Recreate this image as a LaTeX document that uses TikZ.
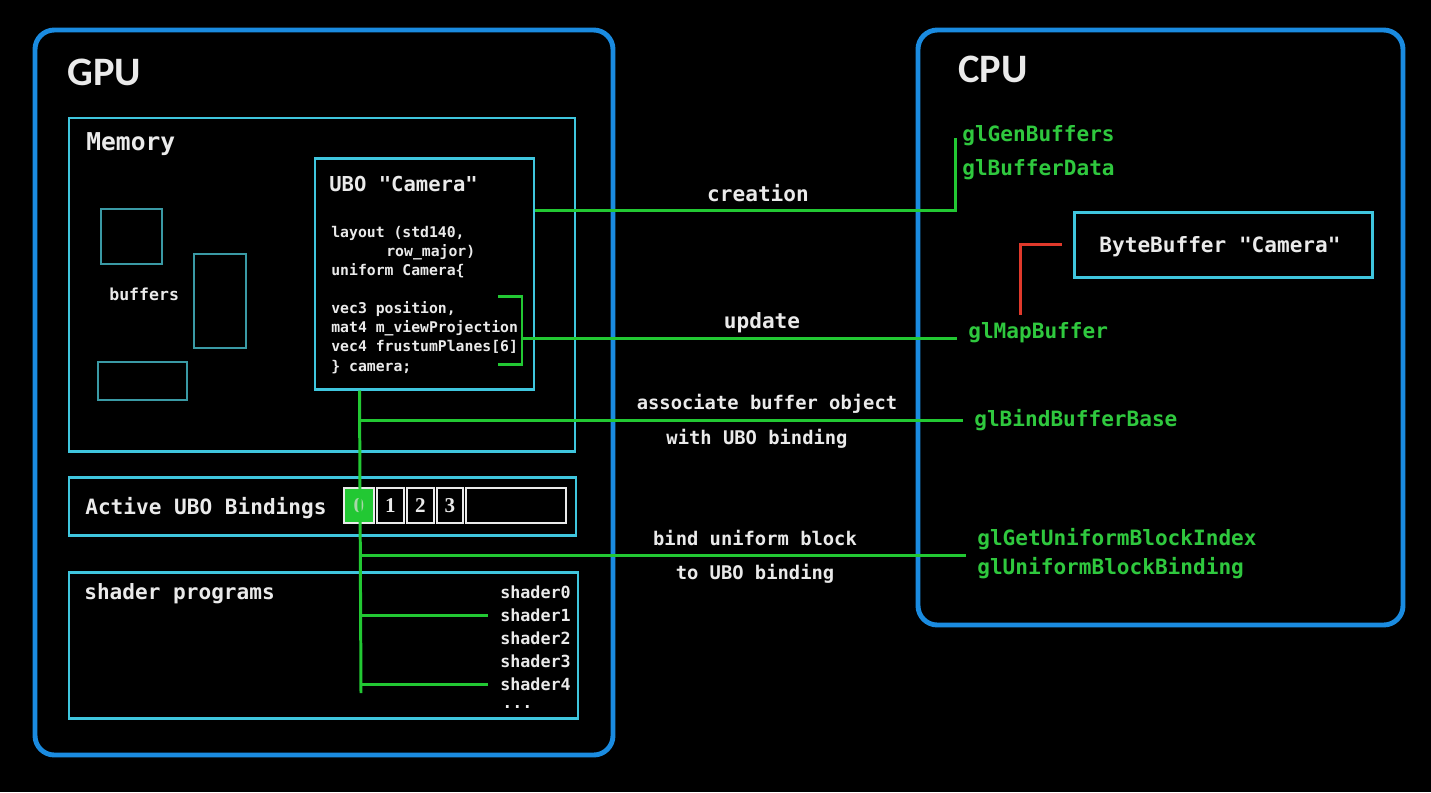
\documentclass[tikz,border=0pt]{standalone}
\usepackage{fontspec}
\setmainfont{Carlito}
\setmonofont{DejaVu Sans Mono}
\newfontfamily\digitfont{Liberation Serif}
\usetikzlibrary{fit,positioning}
\definecolor{gpublue}{HTML}{1A8BE0}
\definecolor{boxcyan}{HTML}{3FC6DE}
\definecolor{bufteal}{HTML}{3A9AA5}
\definecolor{linkgreen}{HTML}{22C833}
\definecolor{callgreen}{HTML}{2FC83E}
\definecolor{mapred}{HTML}{E0392B}
\definecolor{labelgrey}{HTML}{EAEAEA}
\definecolor{zerogrey}{HTML}{A8D8A8}

\tikzset{
  unitbox/.style={draw=gpublue,line width=2.8pt,rounded corners=11pt,inner sep=0pt},
  partbox/.style={draw=boxcyan,line width=1.7pt,inner sep=0pt},
  bufbox/.style={draw=bufteal,line width=1.1pt,inner sep=0pt},
  cellbox/.style={draw=labelgrey,line width=1.1pt,inner sep=0pt},
  unitlabel/.style={text=labelgrey,font=\bfseries\fontsize{23}{23}\selectfont,inner sep=0pt,anchor=west,yshift=-1pt},
  monolabel/.style={text=labelgrey,font=\ttfamily\bfseries\fontsize{#1}{#1}\selectfont,inner sep=0pt,yshift=-1.2pt},
  calllabel/.style={text=callgreen,font=\ttfamily\bfseries\fontsize{12}{12}\selectfont,inner sep=0pt,anchor=west,yshift=-1.2pt},
  digitlabel/.style={text=labelgrey,font=\digitfont\bfseries\fontsize{12}{12}\selectfont,inner sep=0pt},
  link/.style={draw=linkgreen,line width=1.7pt},
  maplink/.style={draw=mapred,line width=1.7pt}
}

\begin{document}
\begin{tikzpicture}[x=0.02cm,y=-0.02cm]
  \fill[black] (0,0) rectangle (1431,792);

  % GPU side
  \node[unitbox,fit={(35,30) (613,755)}] (gpu) {};
  \node[unitlabel] (gpulabel) at (67,71) {GPU};
  \node[partbox,fit={(69,118) (575,451)}] (memory) {};
  \node[monolabel=14,anchor=west] (memlabel) at (86,142) {Memory};
  \node[bufbox,fit={(101,209) (162,264)}] (bufA) {};
  \node[bufbox,fit={(194,254) (246,348)}] (bufB) {};
  \node[bufbox,fit={(98,362) (187,400)}] (bufC) {};
  \node[monolabel=9.4,anchor=west] (buflabel) at (109,292) {buffers};

  \node[partbox,fit={(315,158) (534,389)}] (ubo) {};
  \node[monolabel=11.7,anchor=west] (ubolabel) at (329,182) {UBO "Camera"};
  \foreach \cx/\cy/\ct [count=\i] in {331/231/{layout (std140,},386/250/{row\_major)},331/269/{uniform Camera\{},331/307/{vec3 position,},331/326/{mat4 m\_viewProjection},331/345/{vec4 frustumPlanes[6]},331/365/{\} camera;}}
    \node[monolabel=8.4,anchor=west] (code\i) at (\cx,\cy) {\ct};

  \node[partbox,fit={(69,477) (576,535)}] (bindings) {};
  \node[monolabel=12,anchor=west] (bindlabel) at (85,506) {Active UBO Bindings};
  \node[cellbox,fill=linkgreen,fit={(344,488) (374,523)}] (cell0) {};
  \node[cellbox,fit={(377,488) (404,523)}] (cell1) {};
  \node[cellbox,fit={(407,488) (434,523)}] (cell2) {};
  \node[cellbox,fit={(437,488) (463,523)}] (cell3) {};
  \node[cellbox,fit={(466,488) (566,523)}] (cellrest) {};
  \node[digitlabel,text=zerogrey] (digit0) at (cell0.center) {0};
  \foreach \i in {1,...,3}
    \node[digitlabel] (digit\i) at (cell\i.center) {\i};

  \node[partbox,fit={(69,572) (578,718)}] (shaders) {};
  \node[monolabel=12,anchor=west] (shaderlabel) at (84,592) {shader programs};
  \foreach \i in {0,...,4}
    \node[monolabel=9.5,anchor=east] (shader\i) at (571,590+23*\i) {shader\i};
  \node[monolabel=9.5,anchor=west] (shadermore) at (502,705) {...};

  % CPU side
  \node[unitbox,fit={(918,30) (1403,625)}] (cpu) {};
  \node[unitlabel] (cpulabel) at (958,68) {CPU};
  \node[calllabel] (glgen) at (962,134) {glGenBuffers};
  \node[calllabel] (glbufdata) at (962,168) {glBufferData};
  \node[partbox,fit={(1074,212) (1372,277)}] (bytebuf) {};
  \node[monolabel=12] (bytelabel) at (1220,245) {ByteBuffer "Camera"};
  \node[calllabel] (glmap) at (968,331) {glMapBuffer};
  \node[calllabel] (glbind) at (974,418) {glBindBufferBase};
  \node[calllabel] (glgetidx) at (977,537) {glGetUniformBlockIndex};
  \node[calllabel] (glblockbind) at (977,566) {glUniformBlockBinding};

  % labels between
  \node[monolabel=12] (creationlabel) at (758,191) {creation};
  \node[monolabel=12] (updatelabel) at (762,321) {update};
  \node[monolabel=10.7] (assoclabelA) at (767,402) {associate buffer object};
  \node[monolabel=10.7] (assoclabelB) at (757,437) {with UBO binding};
  \node[monolabel=10.7] (blocklabelA) at (755,536) {bind uniform block};
  \node[monolabel=10.7] (blocklabelB) at (755,572) {to UBO binding};

  % connectors
  \coordinate (genbend) at (955,210);
  \coordinate (gentop) at (955,138);
  \draw[link] (ubo.east |- genbend) -| (gentop);

  \coordinate (brtop) at (498,296);
  \coordinate (brbot) at (498,364);
  \coordinate (brmid) at (522,338);
  \draw[link] (brtop) -| (brmid) |- (brbot);
  \draw[link,shorten >=6.5pt] (brmid) -- (brmid -| glmap.west);

  \path (ubo.south west) ++(46,0) coordinate (bustop);
  \coordinate (busend) at (361,693);
  \draw[link] (bustop) -- (busend);
  \draw[link,shorten >=6.5pt] (bustop |- glbind.west) -- (glbind.west);
  \coordinate (bindrow) at (361,555);
  \draw[link,shorten >=6.5pt] (bindrow) -- (bindrow -| glgetidx.west);
  \draw[link,shorten >=6.8pt] (bustop |- shader1.west) -- (shader1.west);
  \draw[link,shorten >=6.8pt] (bustop |- shader4.west) -- (shader4.west);

  \coordinate (mapbend) at (1020,243);
  \draw[maplink,shorten <=4.5pt,shorten >=6pt] (glmap.north -| mapbend) |- (bytebuf.west);
\end{tikzpicture}
\end{document}
